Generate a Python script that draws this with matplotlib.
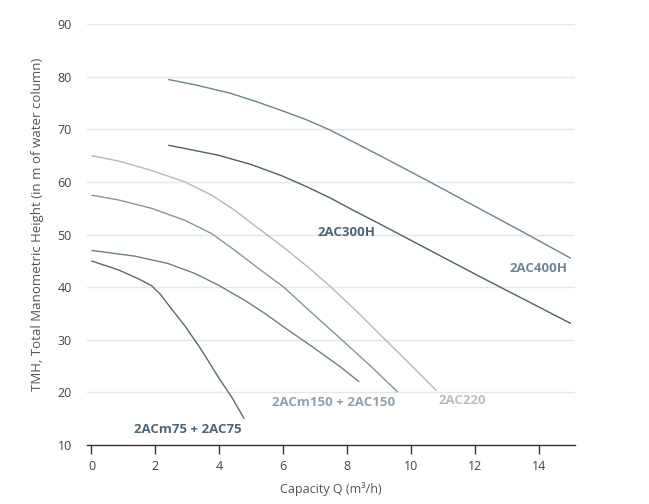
import matplotlib
matplotlib.use('Agg')
import matplotlib.pyplot as plt

# pump curves (capacity m3/h, head m)
q_400h = [2.4, 3.3, 4.33, 5.1, 5.9, 6.7, 7.46, 8.2, 9.0, 10.5, 12.0, 13.5, 15.0]
h_400h = [79.5, 78.4, 76.9, 75.4, 73.7, 71.9, 69.9, 67.6, 65.1, 60.3, 55.4, 50.5, 45.5]

q_300h = [2.4, 3.97, 5.01, 5.95, 6.7, 7.46, 8.2, 9.0, 10.5, 12.0, 13.5, 15.0]
h_300h = [67.0, 65.1, 63.3, 61.2, 59.2, 57.0, 54.6, 52.1, 47.3, 42.5, 37.8, 33.1]

q_220 = [0, 0.84, 1.88, 2.93, 3.76, 4.49, 5.22, 6.05, 6.8, 7.5, 8.3, 9.18, 10.0, 10.8]
h_220 = [65.0, 64.0, 62.2, 60.0, 57.5, 54.6, 51.2, 47.4, 43.7, 40.0, 35.4, 30.1, 25.2, 20.3]

q_150 = [0, 0.84, 1.88, 2.93, 3.76, 4.49, 5.22, 6.0, 6.9, 7.78, 8.7, 9.58]
h_150 = [57.5, 56.6, 55.0, 52.7, 50.2, 47.0, 43.6, 40.1, 35.1, 30.3, 25.2, 20.1]

q_150b = [0, 1.36, 2.4, 3.24, 3.97, 4.8, 5.43, 6.05, 7.0, 7.78, 8.38]
h_150b = [47.0, 45.9, 44.5, 42.6, 40.4, 37.5, 35.0, 32.3, 28.3, 24.9, 22.0]

q_75 = [0, 0.84, 1.47, 1.88, 2.15, 2.4, 2.93, 3.45, 3.97, 4.39, 4.78]
h_75 = [45.0, 43.3, 41.6, 40.3, 38.7, 36.7, 32.6, 28.0, 22.9, 19.1, 15.0]

curves = [
    (q_400h, h_400h, '#6b8493'),
    (q_300h, h_300h, '#4a6170'),
    (q_220, h_220, '#adbac1'),
    (q_150, h_150, '#8096a2'),
    (q_150b, h_150b, '#6a808d'),
    (q_75, h_75, '#566b78'),
]

labels = [
    ('2AC300H', 7.98, 50.4, '#4d6676'),
    ('2AC400H', 14.0, 43.6, '#6f8899'),
    ('2ACm150 + 2AC150', 7.59, 18.1, '#8ea2ad'),
    ('2AC220', 11.6, 18.5, '#b3c0c6'),
    ('2ACm75 + 2AC75', 3.02, 13.0, '#4d6676'),
]

plt.rcParams['font.family'] = ['Open Sans', 'DejaVu Sans']

fig = plt.figure(figsize=(6.49, 5.04), dpi=100)
ax = fig.add_axes([0.134, 0.117, 0.752, 0.835])

for q, h, c in curves:
    ax.plot(q, h, color=c, lw=1.0, solid_capstyle='butt', solid_joinstyle='round')

for txt, x, y, c in labels:
    ax.text(x, y, txt, color=c, fontsize=9.5, fontweight='bold', ha='center', va='center')

ax.set_xlim(-0.14, 15.13)
ax.set_ylim(10, 90)
ax.set_xticks(range(0, 15, 2))
ax.set_yticks(range(10, 91, 10))
ax.grid(axis='y', color='#e6e6e6', lw=1.0)
ax.set_axisbelow(True)

for s in ['top', 'right', 'left']:
    ax.spines[s].set_visible(False)
ax.spines['bottom'].set_color('#333333')
ax.spines['bottom'].set_linewidth(1.0)

ax.tick_params(axis='x', direction='out', length=6.5, width=1.0, color='#333333',
               labelsize=9, labelcolor='#444444', pad=4)
ax.tick_params(axis='y', length=0, labelsize=9, labelcolor='#444444', pad=11)

ax.set_xlabel('Capacity Q (m³/h)', fontsize=9, color='#555555', labelpad=7)
ax.set_ylabel('TMH, Total Manometric Height (in m of water column)', fontsize=9.5,
              color='#555555')
ax.yaxis.set_label_coords(-0.088, 0.524)

fig.savefig('out.png', dpi=100)
